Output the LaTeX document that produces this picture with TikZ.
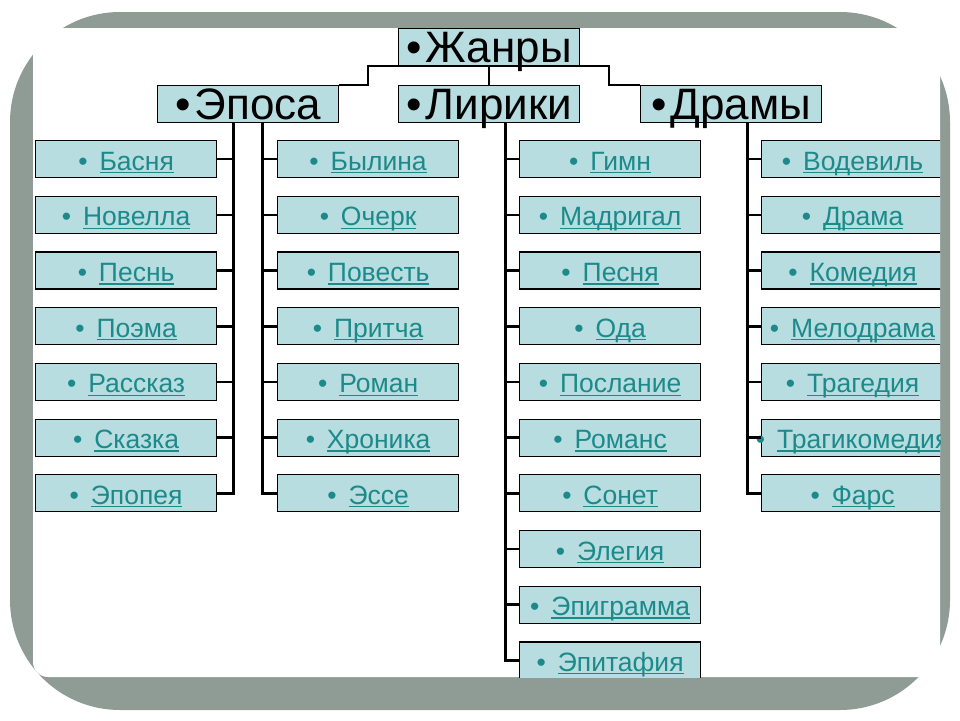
\documentclass[tikz,border=0pt]{standalone}
\usepackage{fontspec}
\setmainfont{Liberation Sans}
\usetikzlibrary{calc}
\definecolor{framegray}{RGB}{143,155,149}
\definecolor{boxfill}{RGB}{183,221,224}
\definecolor{tealtxt}{RGB}{28,138,138}
\newcommand\ulx[1]{\setbox0\hbox{#1}\rlap{\rule[-3pt]{\wd0}{1.3pt}}\box0}
\newcommand\gitem[1]{{\color{tealtxt}\makebox[0pt][c]{\textbullet\hspace{0.45em}\ulx{#1}}}}
\newcommand\bigt[1]{\makebox[0pt][c]{\textbullet\hspace{4pt}#1}}
\tikzset{
  cat/.style={draw=black, line width=1.3pt, fill=boxfill, minimum width=181pt,
    minimum height=37pt, inner sep=0pt, text height=30pt, text depth=0pt,
    anchor=north west, font=\fontsize{44}{44}\selectfont},
  leaf/.style={draw=black, line width=1.2pt, fill=boxfill, minimum width=181pt,
    minimum height=37pt, inner sep=0pt, text height=22pt, text depth=0pt,
    anchor=north west, font=\fontsize{26.5}{26.5}\selectfont},
  link/.style={line width=2.6pt, draw=black},
}
\begin{document}
\begin{tikzpicture}[x=1pt,y=-1pt]
\useasboundingbox (0,0) rectangle (960,720);
% frame
\fill[framegray, rounded corners=110pt] (10,12) rectangle (950,710);
\fill[white] (33,28) -- (940,28) -- (940,677) {[rounded corners=15pt] -- (33,677) -- (33,600)} -- cycle;
\begin{scope}
\clip (0,0) rectangle (940,677);
% category boxes
\node[cat] (zh) at (398,28) {\bigt{Жанры}};
\node[cat] (ep) at (157,85) {\bigt{Эпоса}};
\node[cat] (li) at (398,85) {\bigt{Лирики}};
\node[cat] (dr) at (640,85) {\bigt{Драмы}};
% leaves
\foreach \t [count=\i from 0] in {Басня,Новелла,Песнь,Поэма,Рассказ,Сказка,Эпопея}
  \node[leaf] (a\i) at (35,{140+55.7*\i}) {\gitem{\t}};
\foreach \t [count=\i from 0] in {Былина,Очерк,Повесть,Притча,Роман,Хроника,Эссе}
  \node[leaf] (b\i) at (277,{140+55.7*\i}) {\gitem{\t}};
\foreach \t [count=\i from 0] in {Гимн,Мадригал,Песня,Ода,Послание,Романс,Сонет,Элегия,Эпиграмма,Эпитафия}
  \node[leaf] (c\i) at (519,{140+55.7*\i}) {\gitem{\t}};
\foreach \t [count=\i from 0] in {Водевиль,Драма,Комедия,Мелодрама,Трагедия,Трагикомедия,Фарс}
  \node[leaf, minimum width=182pt] (d\i) at (761,{140+55.7*\i}) {\gitem{\t}};
% junction points
\coordinate (jl) at (368,66);
\coordinate (jr) at (609,66);
\coordinate (epL) at ($(ep.south)+(-14.5,0)$);
\coordinate (epR) at ($(ep.south)+(14.5,0)$);
\coordinate (liL) at ($(li.south)+(16.5,0)$);
\coordinate (drL) at ($(dr.south)+(16.5,0)$);
% top connectors
\draw[link] (ep.north east) -| (jl) -- (jr) |- (dr.north west);
\draw[link] (zh.south) -- (li.north);
% column connectors
\foreach \i in {0,...,5} \draw[link] (a\i.east) -- (a\i.east -| epL);
\draw[link] (a6.east) -| (epL);
\foreach \i in {0,...,5} \draw[link] (b\i.west) -- (b\i.west -| epR);
\draw[link] (b6.west) -| (epR);
\foreach \i in {0,...,8} \draw[link] (c\i.west) -- (c\i.west -| liL);
\draw[link] (c9.west) -| (liL);
\foreach \i in {0,...,5} \draw[link] (d\i.west) -- (d\i.west -| drL);
\draw[link] (d6.west) -| (drL);
\end{scope}
\end{tikzpicture}
\end{document}
